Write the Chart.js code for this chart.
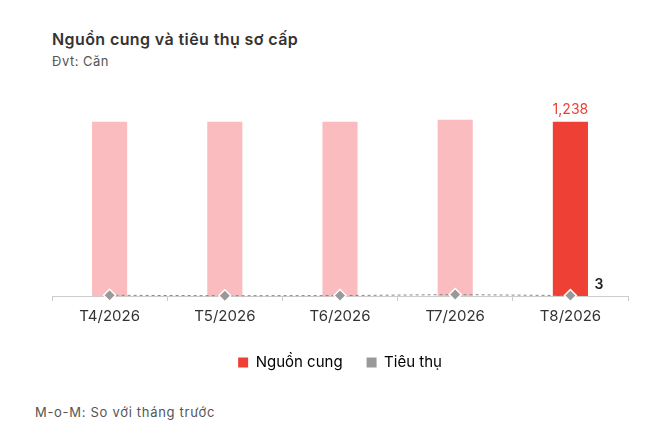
<!DOCTYPE html>
<html>
<head>
<meta charset="utf-8">
<script src="https://cdn.jsdelivr.net/npm/chart.js@4"></script>
<style>
    body { margin: 0; background: #fff; font-family: Inter, sans-serif; }
    .title { position: absolute; left: 52px; top: 29px; font-size: 16px; letter-spacing: 0.4px; font-weight: 600; color: #333; }
    .unit { position: absolute; left: 52px; top: 53px; font-size: 13px; letter-spacing: 0.5px; color: #555; }
    .note { position: absolute; left: 35px; top: 404px; font-size: 13px; letter-spacing: 0.7px; color: #555; }
    .wrap { position: absolute; left: 0; top: 90px; width: 654px; height: 290px; }
</style>
</head>
<body>
<div class="title">Nguồn cung và tiêu thụ sơ cấp</div>
<div class="unit">Đvt: Căn</div>
<div class="wrap"><canvas id="chart"></canvas></div>
<div class="note">M-o-M: So với tháng trước</div>
<script>
// chart data
const months = ['T4/2026', 'T5/2026', 'T6/2026', 'T7/2026', 'T8/2026'];
const supply = [1238, 1238, 1238, 1252, 1238];
const sales = [5, 2, 3, 10, 3];
const seriesNames = ['Nguồn cung', 'Tiêu thụ'];

const RED = '#ee4035';
const PINK = '#fbbcbf';
const GREY = '#999999';

// labels for last bar and last point
const lastLabels = {
    id: 'lastLabels',
    afterDatasetsDraw(chart) {
        const ctx = chart.ctx;
        const last = months.length - 1;
        const bar = chart.getDatasetMeta(0).data[last];
        const pt = chart.getDatasetMeta(1).data[last];
        ctx.save();
        ctx.font = '14px Inter, sans-serif';
        ctx.fillStyle = RED;
        ctx.textAlign = 'center';
        ctx.textBaseline = 'bottom';
        ctx.fillText(supply[last].toLocaleString('en-US'), bar.x, bar.y - 5);
        ctx.font = '600 14px Inter, sans-serif';
        ctx.fillStyle = '#222';
        ctx.textAlign = 'left';
        ctx.textBaseline = 'middle';
        ctx.fillText(String(sales[last]), bar.x + 24, pt.y - 11);
        ctx.restore();
    }
};

new Chart(document.getElementById('chart'), {
    data: {
        labels: months,
        datasets: [
            {
                type: 'bar',
                label: seriesNames[0],
                data: supply,
                backgroundColor: supply.map((v, i) => i === supply.length - 1 ? RED : PINK),
                categoryPercentage: 1,
                barPercentage: 0.305,
                order: 1
            },
            {
                type: 'line',
                label: seriesNames[1],
                data: sales,
                clip: false,
                borderColor: '#888',
                borderWidth: 1,
                borderDash: [3, 3],
                pointStyle: 'rectRot',
                pointRadius: 6,
                pointBackgroundColor: GREY,
                pointBorderColor: '#fff',
                pointBorderWidth: 1.5,
                order: 0
            }
        ]
    },
    options: {
        responsive: true,
        maintainAspectRatio: false,
        animation: false,
        layout: { padding: { left: 52, right: 26, top: 9, bottom: 0 } },
        plugins: {
            tooltip: { enabled: false },
            legend: {
                position: 'bottom',
                labels: {
                    boxWidth: 10,
                    boxHeight: 10,
                    padding: 24,
                    color: '#333',
                    font: { family: 'Inter', size: 15 },
                    generateLabels: () => [
                        { text: seriesNames[0], fillStyle: RED, strokeStyle: RED, lineWidth: 0, datasetIndex: 0 },
                        { text: seriesNames[1], fillStyle: GREY, strokeStyle: GREY, lineWidth: 0, datasetIndex: 1 }
                    ]
                }
            }
        },
        scales: {
            x: {
                grid: { drawOnChartArea: false, drawTicks: true, tickLength: 5, color: '#ccc' },
                border: { display: true, color: '#ccc' },
                ticks: { color: '#333', font: { family: 'Inter', size: 15 }, padding: 6 }
            },
            y: {
                display: false,
                min: 0,
                max: 1400
            }
        }
    },
    plugins: [lastLabels]
});
</script>
</body>
</html>
